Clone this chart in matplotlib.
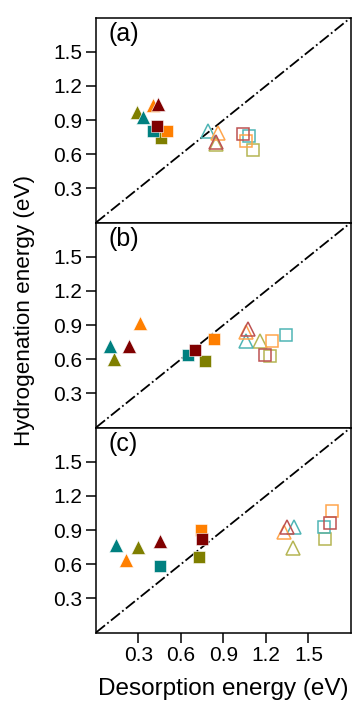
import numpy as np
import matplotlib.pyplot as plt

plt.rcParams['font.family'] = ['Liberation Sans', 'DejaVu Sans']

# colour order: olive, teal, orange, dark red
colores = ['#7f7f00', '#008080', '#ff7f00', '#800000']
colores_claros = ['#b5b553', '#4fb5b5', '#ffa64d', '#bd5252']

# panel (a)
a_tri_x = [0.29, 0.33, 0.40, 0.44]
a_tri_y = [0.97, 0.93, 1.03, 1.04]
a_sq_x = [0.46, 0.40, 0.50, 0.43]
a_sq_y = [0.74, 0.80, 0.80, 0.85]
a_otri_x = [0.85, 0.79, 0.86, 0.85]
a_otri_y = [0.69, 0.80, 0.79, 0.71]
a_osq_x = [1.11, 1.08, 1.06, 1.04]
a_osq_y = [0.64, 0.76, 0.72, 0.78]

# panel (b)
b_tri_x = [0.13, 0.10, 0.31, 0.23]
b_tri_y = [0.60, 0.72, 0.92, 0.72]
b_sq_x = [0.77, 0.65, 0.83, 0.70]
b_sq_y = [0.58, 0.64, 0.78, 0.68]
b_otri_x = [1.16, 1.06, 1.06, 1.07]
b_otri_y = [0.76, 0.76, 0.84, 0.865]
b_osq_x = [1.23, 1.34, 1.24, 1.19]
b_osq_y = [0.625, 0.81, 0.76, 0.64]

# panel (c)
c_tri_x = [0.30, 0.14, 0.21, 0.45]
c_tri_y = [0.75, 0.77, 0.64, 0.80]
c_sq_x = [0.73, 0.45, 0.74, 0.75]
c_sq_y = [0.66, 0.58, 0.90, 0.82]
c_otri_x = [1.39, 1.40, 1.33, 1.35]
c_otri_y = [0.74, 0.93, 0.885, 0.93]
c_osq_x = [1.62, 1.61, 1.67, 1.65]
c_osq_y = [0.82, 0.93, 1.07, 0.96]

paneles = [
    ('(a)', a_tri_x, a_tri_y, a_sq_x, a_sq_y, a_otri_x, a_otri_y, a_osq_x, a_osq_y),
    ('(b)', b_tri_x, b_tri_y, b_sq_x, b_sq_y, b_otri_x, b_otri_y, b_osq_x, b_osq_y),
    ('(c)', c_tri_x, c_tri_y, c_sq_x, c_sq_y, c_otri_x, c_otri_y, c_osq_x, c_osq_y),
]

ticks = [0.3, 0.6, 0.9, 1.2, 1.5]
tick_labels = ['0.3', '0.6', '0.9', '1.2', '1.5']

fig = plt.figure(figsize=(3.53, 7.02), dpi=100)
izq, ancho, alto = 0.272, 0.722, 0.292
abajo = 0.099

for k, (nombre, tx, ty, sx, sy, otx, oty, osx, osy) in enumerate(paneles):
    ax = fig.add_axes([izq, abajo + (2 - k) * alto, ancho, alto])
    ax.plot([0, 1.8], [0, 1.8], color='black', ls='-.', lw=1.3, zorder=1)
    for i in range(4):
        ax.plot(osx[i], osy[i], 's', ms=8, mfc='none', mec=colores_claros[i], mew=1.1, zorder=2)
        ax.plot(otx[i], oty[i], '^', ms=10, mfc='none', mec=colores_claros[i], mew=1.1, zorder=2)
    for i in range(4):
        ax.plot(tx[i], ty[i], '^', ms=10, color=colores[i], mec='white', mew=0.4, zorder=3)
        ax.plot(sx[i], sy[i], 's', ms=8, color=colores[i], mec='white', mew=0.4, zorder=3)
    ax.set_xlim(0, 1.8)
    ax.set_ylim(0, 1.8)
    ax.set_yticks(ticks)
    ax.set_yticklabels(tick_labels)
    ax.set_xticks(ticks)
    ax.tick_params(direction='out', length=7, width=1.1, labelsize=15, pad=3)
    if k == 2:
        ax.set_xticklabels(tick_labels)
    else:
        ax.set_xticklabels([])
        ax.tick_params(axis='x', length=0)
    for s in ax.spines.values():
        s.set_linewidth(1.1)
    ax.text(0.05, 0.92, nombre, transform=ax.transAxes, fontsize=18, va='center', ha='left')

fig.text(0.068, 0.558, 'Hydrogenation energy (eV)', rotation=90, fontsize=16.2, va='center', ha='center')
fig.text(0.633, 0.018, 'Desorption energy (eV)', fontsize=17.5, va='center', ha='center')

plt.savefig('out.png', dpi=100)
